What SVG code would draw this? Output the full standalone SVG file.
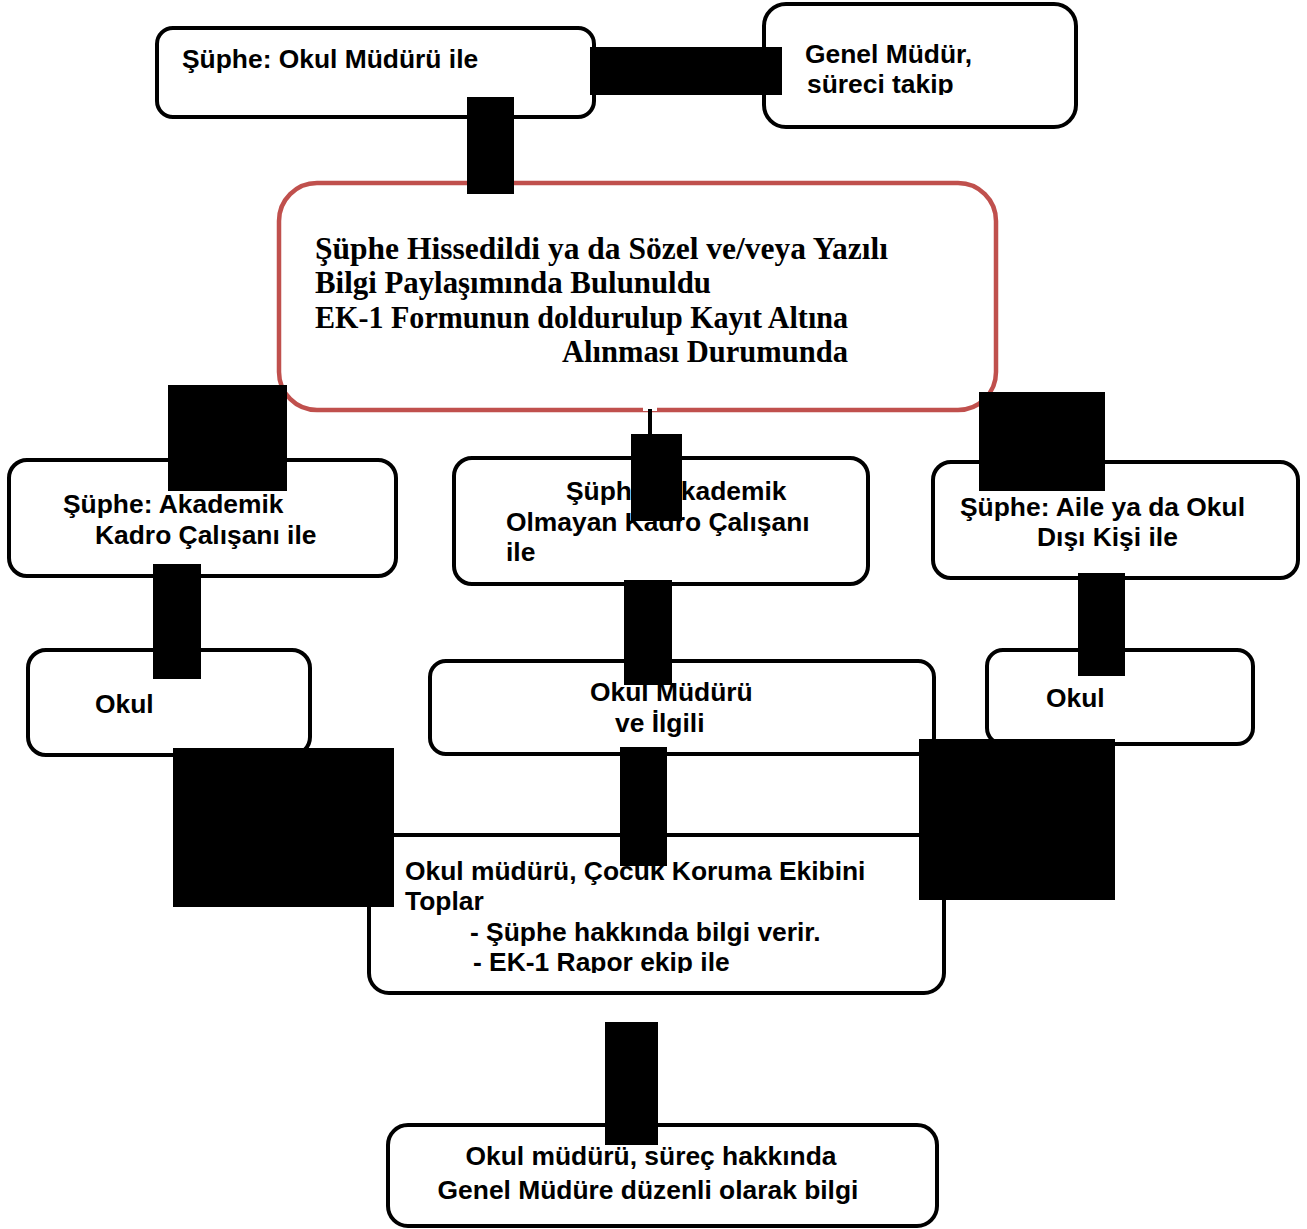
<svg xmlns="http://www.w3.org/2000/svg" width="1307" height="1229" viewBox="0 0 1307 1229">
<style>
.box{fill:#fff;stroke:#000;stroke-width:4}
.red{fill:#fff;stroke:#C0504D;stroke-width:4.5}
.t{font-family:"Liberation Sans",Arial,sans-serif;font-weight:bold;font-size:26.4px;fill:#000}
.s{font-family:"Liberation Serif","Times New Roman",serif;font-weight:bold;font-size:31px;fill:#000}
.blk{fill:#000}
</style>
<defs>
<clipPath id="c2"><rect x="763" y="0" width="320" height="95"/></clipPath>
<clipPath id="cm2"><rect x="429" y="650" width="510" height="87"/></clipPath>
<clipPath id="cb3"><rect x="368" y="830" width="580" height="143"/></clipPath>
</defs>
<rect width="1307" height="1229" fill="#fff"/>
<g id="n-okul-muduru">
<rect class="box" x="157" y="28" width="437" height="89" rx="16"/>
<text class="t" x="182" y="68">Şüphe: Okul Müdürü ile</text>
</g>
<g id="n-genel-mudur">
<rect class="box" x="764" y="4" width="312" height="123" rx="22"/>
<g clip-path="url(#c2)">
<text class="t" x="805" y="63">Genel Müdür,</text>
<text class="t" x="807" y="93">süreci takip</text>
</g>
</g>
<g id="n-supe">
<rect class="red" x="279" y="183" width="717" height="227" rx="38"/>
<text class="s" x="315" y="259" textLength="573" lengthAdjust="spacingAndGlyphs">Şüphe Hissedildi ya da Sözel ve/veya Yazılı</text>
<text class="s" x="315" y="293" textLength="396" lengthAdjust="spacingAndGlyphs">Bilgi Paylaşımında Bulunuldu</text>
<text class="s" x="315" y="328" textLength="533" lengthAdjust="spacingAndGlyphs">EK-1 Formunun doldurulup Kayıt Altına</text>
<text class="s" x="562" y="362" textLength="286" lengthAdjust="spacingAndGlyphs">Alınması Durumunda</text>
</g>
<g id="n-akademik">
<rect class="box" x="9" y="460" width="387" height="116" rx="18"/>
<text class="t" x="63" y="513">Şüphe: Akademik</text>
<text class="t" x="95" y="544">Kadro Çalışanı ile</text>
</g>
<g id="n-akademik-olmayan">
<rect class="box" x="454" y="458" width="414" height="126" rx="18"/>
<text class="t" x="566" y="500">Şüphe: Akademik</text>
<text class="t" x="506" y="531">Olmayan Kadro Çalışanı</text>
<text class="t" x="506" y="561">ile</text>
</g>
<g id="n-aile">
<rect class="box" x="933" y="462" width="365" height="116" rx="18"/>
<text class="t" x="960" y="516">Şüphe: Aile ya da Okul</text>
<text class="t" x="1037" y="546">Dışı Kişi ile</text>
</g>
<g id="n-okul-1">
<rect class="box" x="28" y="650" width="282" height="105" rx="18"/>
<text class="t" x="95" y="713">Okul</text>
</g>
<g id="n-okul-muduru-ilgili">
<rect class="box" x="430" y="661" width="504" height="93" rx="16"/>
<g clip-path="url(#cm2)">
<text class="t" x="590" y="701">Okul Müdürü</text>
<text class="t" x="615" y="732">ve İlgili</text>
</g>
</g>
<g id="n-okul-2">
<rect class="box" x="987" y="650" width="266" height="94" rx="16"/>
<text class="t" x="1046" y="707">Okul</text>
</g>
<g id="n-cocuk-koruma">
<rect class="box" x="369" y="835" width="575" height="158" rx="20"/>
<g clip-path="url(#cb3)">
<text class="t" x="405" y="880">Okul müdürü, Çocuk Koruma Ekibini</text>
<text class="t" x="405" y="910">Toplar</text>
<text class="t" x="470" y="941">- Şüphe hakkında bilgi verir.</text>
<text class="t" x="473" y="971">- EK-1 Rapor ekip ile</text>
</g>
</g>
<g id="n-bilgi">
<rect class="box" x="388" y="1125" width="549" height="101" rx="20"/>
<text class="t" x="651" y="1165" text-anchor="middle">Okul müdürü, süreç hakkında</text>
<text class="t" x="648" y="1199" text-anchor="middle">Genel Müdüre düzenli olarak bilgi</text>
</g>
<g id="connectors">
<rect class="blk" x="590" y="47" width="192" height="48"/>
<rect class="blk" x="467" y="97" width="47" height="97"/>
<rect fill="#fff" x="643" y="406" width="14" height="5"/>
<rect class="blk" x="648" y="409" width="4" height="26"/>
<rect class="blk" x="168" y="385" width="119" height="106"/>
<rect class="blk" x="631" y="434" width="51" height="87"/>
<rect class="blk" x="979" y="392" width="126" height="99"/>
<rect class="blk" x="153" y="564" width="48" height="115"/>
<rect class="blk" x="624" y="580" width="48" height="105"/>
<rect class="blk" x="1078" y="573" width="47" height="103"/>
<rect class="blk" x="173" y="748" width="221" height="159"/>
<rect class="blk" x="620" y="747" width="47" height="119"/>
<rect class="blk" x="919" y="739" width="196" height="161"/>
<rect class="blk" x="605" y="1022" width="53" height="123"/>
</g>
</svg>
